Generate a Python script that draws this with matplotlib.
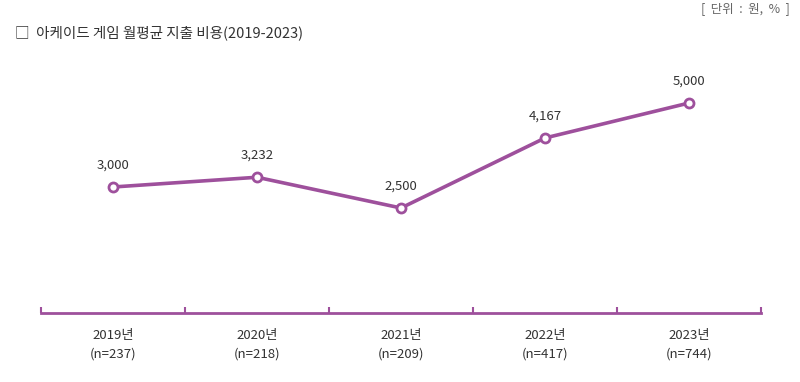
import matplotlib
matplotlib.use('Agg')
import matplotlib.pyplot as plt
import numpy as np

plt.rcParams['font.family'] = ['Noto Sans CJK KR', 'DejaVu Sans']

# data
years = ['2019년', '2020년', '2021년', '2022년', '2023년']
samples = ['(n=237)', '(n=218)', '(n=209)', '(n=417)', '(n=744)']
spend = [3000, 3232, 2500, 4167, 5000]

purple = '#9E509C'
text_c = '#333333'

fig = plt.figure(figsize=(8, 3.82), dpi=100)
ax = fig.add_axes([41 / 800, 69 / 382, 720 / 800, 252 / 382])

x = np.arange(len(years))
ax.plot(x, spend, color=purple, lw=2.6, marker='o', ms=6.5,
        mfc='white', mec=purple, mew=2, zorder=3)
for xi, v in zip(x, spend):
    ax.annotate(f'{v:,}', (xi, v), xytext=(0, 11), textcoords='offset points',
                ha='center', va='bottom', fontsize=9.5, color=text_c)

ax.set_xlim(-0.5, len(years) - 0.5)
ax.set_ylim(0, 6000)
for s in ['top', 'right', 'left']:
    ax.spines[s].set_visible(False)
ax.spines['bottom'].set_color(purple)
ax.spines['bottom'].set_linewidth(2)
ax.set_yticks([])

# boundary ticks between categories
ax.set_xticks(np.arange(-0.5, len(years), 1.0))
ax.set_xticklabels([])
ax.tick_params(axis='x', direction='in', length=4, width=1.5, color=purple)

for xi, yl, n in zip(x, years, samples):
    ax.text(xi, -0.065, f'{yl}\n{n}', transform=ax.get_xaxis_transform(),
            ha='center', va='top', fontsize=9.5, color=text_c, linespacing=1.55)

fig.text(15 / 800, 1 - 33 / 382, '□  아케이드 게임 월평균 지출 비용(2019-2023)',
         ha='left', va='center', fontsize=10.5, color=text_c)
fig.text(790 / 800, 1 - 9 / 382, '[  단위  :  원,  %  ]',
         ha='right', va='center', fontsize=9, color='#666666')

fig.savefig('out.png', dpi=100)
